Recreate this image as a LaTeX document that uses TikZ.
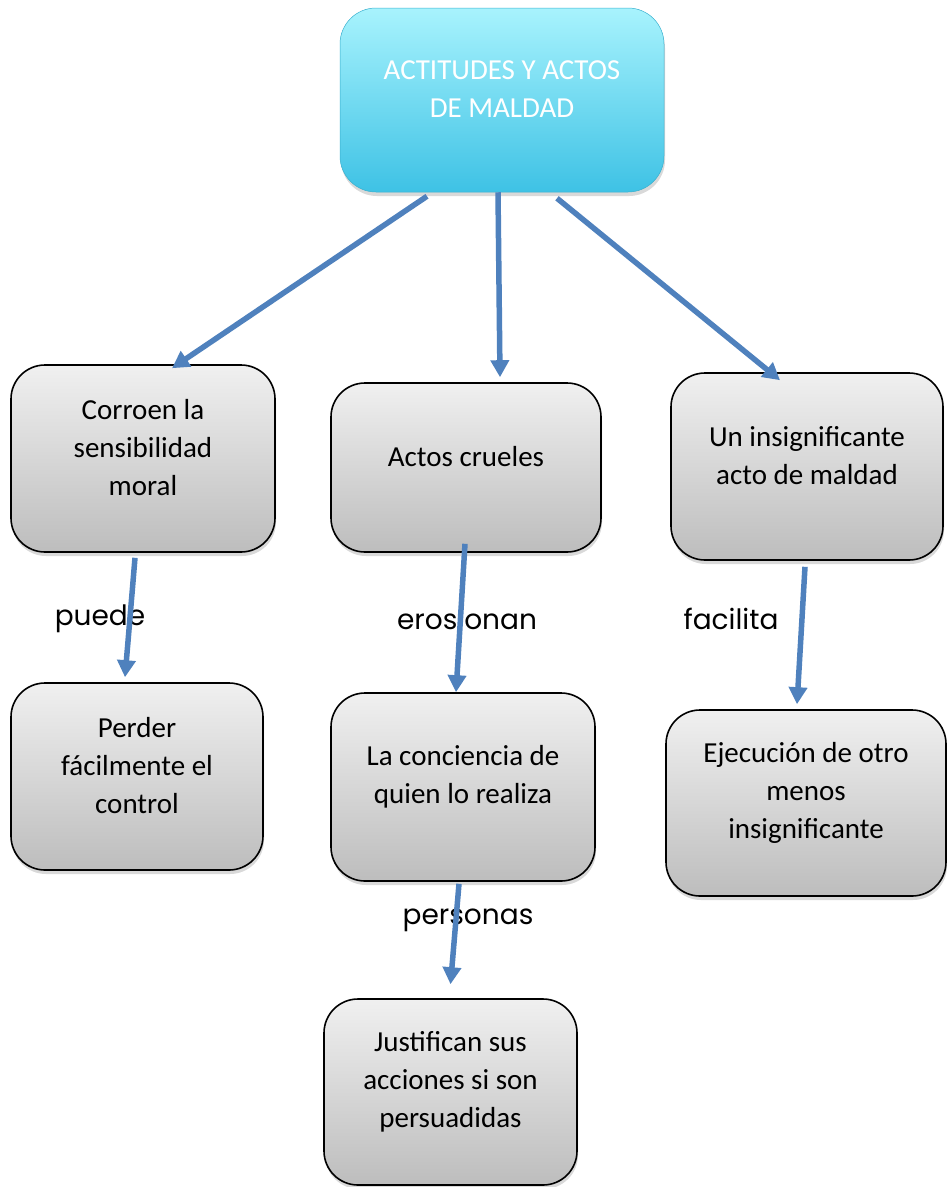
\documentclass[tikz,border=0pt]{standalone}
\usepackage{fontspec}
\setmainfont{Carlito}
\newfontfamily\gotica{Poppins}
\usetikzlibrary{arrows.meta,shadows}
\definecolor{flecha}{HTML}{4F81BD}
\definecolor{cianclaro}{HTML}{A8F3FD}
\definecolor{cianoscuro}{HTML}{3EC2E5}
\definecolor{grisclaro}{HTML}{F0F0F0}
\definecolor{grisoscuro}{HTML}{BDBDBD}
\tikzstyle{principal} = [rectangle, rounded corners=36pt, inner sep=0pt, top color=cianclaro, bottom color=cianoscuro, draw=cianoscuro!90!black, line width=0.5pt, drop shadow={shadow xshift=1pt, shadow yshift=-4pt, opacity=0.3}]
\tikzstyle{caja} = [rectangle, rounded corners=34pt, inner sep=0pt, draw=black, line width=1.6pt, top color=grisclaro, bottom color=grisoscuro, drop shadow={shadow xshift=1pt, shadow yshift=-4pt, opacity=0.3}]
\tikzstyle{texto} = [font=\fontsize{29}{38}\selectfont, align=center, inner sep=0pt]
\tikzstyle{etiqueta} = [font=\gotica\fontsize{28}{32}\selectfont, inner sep=0pt]
\tikzstyle{conecta} = [draw=flecha, line width=5.5pt, -{Triangle[length=17pt,width=18pt]}]

\begin{document}
\begin{tikzpicture}[x=1pt,y=-1pt]
	\useasboundingbox (0,0) rectangle (947,1187);
	% cajas
	\node[principal, minimum width=324pt, minimum height=184pt] (tema) at (502,100) {};
	\node[texto, text=white] (tema-t) at ([yshift=10.5pt]tema.center) {ACTITUDES Y ACTOS\\DE MALDAD};

	\node[caja, minimum width=264pt, minimum height=187pt] (corroen) at (143,458.5) {};
	\node[texto] (corroen-t) at ([yshift=10.5pt]corroen.center) {Corroen la\\sensibilidad\\moral};
	\node[caja, minimum width=270pt, minimum height=169pt] (actos) at (466,467.5) {};
	\node[texto] (actos-t) at ([yshift=10.5pt]actos.center) {Actos crueles};
	\node[caja, minimum width=272pt, minimum height=187pt] (insignificante) at (807,466.5) {};
	\node[texto] (insignificante-t) at ([yshift=10.5pt]insignificante.center) {Un insignificante\\acto de maldad};

	\node[caja, minimum width=252pt, minimum height=187pt] (perder) at (137,776.5) {};
	\node[texto] (perder-t) at ([yshift=10.5pt]perder.center) {Perder\\fácilmente el\\control};
	\node[caja, minimum width=264pt, minimum height=188pt] (conciencia) at (463,787) {};
	\node[texto] (conciencia-t) at ([yshift=10.5pt]conciencia.center) {La conciencia de\\quien lo realiza};
	\node[caja, minimum width=280pt, minimum height=186pt] (ejecucion) at (806,803) {};
	\node[texto] (ejecucion-t) at ([yshift=10.5pt]ejecucion.center) {Ejecución de otro\\menos\\insignificante};

	\node[caja, minimum width=253pt, minimum height=186pt] (justifican) at (450.5,1092) {};
	\node[texto] (justifican-t) at ([yshift=10.5pt]justifican.center) {Justifican sus\\acciones si son\\persuadidas};

	% etiquetas
	\node[etiqueta] (puede) at (100,619) {puede};
	\node[etiqueta] (erosionan) at (467,619) {erosionan};
	\node[etiqueta] (facilita) at (731,619) {facilita};
	\node[etiqueta] (personas) at (468,920) {personas};

	% flechas
	\draw[conecta] ([xshift=-75pt,yshift=-4pt]tema.south) -- ([xshift=29pt,yshift=-4pt]corroen.north);
	\draw[conecta] ([xshift=-4pt]tema.south) -- ([xshift=34pt,yshift=5pt]actos.north);
	\draw[conecta] ([xshift=55pt,yshift=-6pt]tema.south) -- ([xshift=-27pt,yshift=-8pt]insignificante.north);
	\draw[conecta] ([xshift=-8pt,yshift=-5pt]corroen.south) -- ([xshift=-12pt,yshift=5pt]perder.north);
	\draw[conecta] ([xshift=-1pt,yshift=9pt]actos.south) -- ([xshift=-7pt]conciencia.north);
	\draw[conecta] ([xshift=-2pt,yshift=-6pt]insignificante.south) -- ([xshift=-9pt,yshift=5pt]ejecucion.north);
	\draw[conecta] ([xshift=-4pt,yshift=-2pt]conciencia.south) -- ([yshift=14pt]justifican.north);
\end{tikzpicture}
\end{document}
